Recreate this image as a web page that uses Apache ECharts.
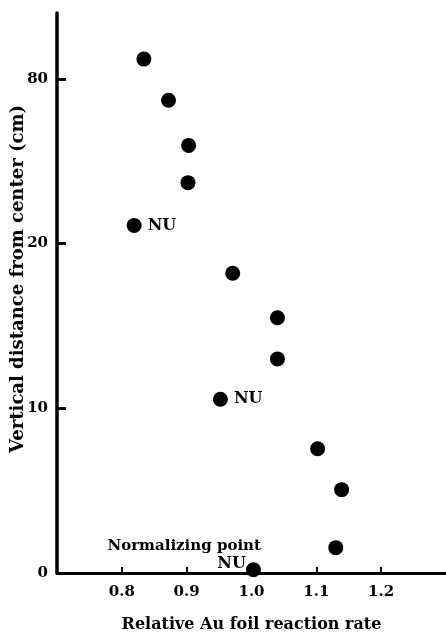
<!DOCTYPE html>
<html>
<head>
<meta charset="utf-8">
<script src="https://cdn.jsdelivr.net/npm/echarts@6/dist/echarts.min.js"></script>
<style>
  html, body { margin: 0; padding: 0; background: #fff; }
  #chart { width: 446px; height: 636px; }
</style>
</head>
<body>
<div id="chart"></div>
<script>
// relative Au foil reaction rate vs vertical distance
const rateValues = [0.834, 0.872, 0.903, 0.902, 0.819, 0.971, 1.040, 1.040, 0.952, 1.102, 1.139, 1.130, 1.003];
const distValues = [31.2, 28.7, 25.96, 23.7, 21.1, 18.2, 15.5, 13.0, 10.55, 7.54, 5.06, 1.54, 0.2];
const pointNotes = ['', '', '', '', 'NU', '', '', '', 'NU', '', '', '', 'NU'];
const normalizingIndex = 12;
const normalizingText = 'Normalizing point';

const xTicks = [0.8, 0.9, 1.0, 1.1, 1.2];
const yTicks = [0, 10, 20, 30];
// the printed figure labels the 30 cm tick as "80"
const yTickLabels = ['0', '10', '20', '80'];

const font = 'DejaVu Serif';
const black = '#000';

const chart = echarts.init(document.getElementById('chart'));

const seriesData = rateValues.map((x, i) => {
  const item = { value: [x, distValues[i]] };
  if (i === normalizingIndex) {
    item.label = {
      show: true,
      position: [15, 11],
      align: 'right',
      verticalAlign: 'bottom',
      formatter: '{a|' + normalizingText + '}\n{b|' + pointNotes[i] + '}',
      rich: {
        a: { fontFamily: font, fontWeight: 'bold', fontSize: 15, color: black, lineHeight: 18, align: 'right' },
        b: { fontFamily: font, fontWeight: 'bold', fontSize: 16, color: black, lineHeight: 18, align: 'right', padding: [0, 15, 0, 0] }
      }
    };
  } else if (pointNotes[i]) {
    item.label = {
      show: true,
      position: 'right',
      distance: 6,
      formatter: pointNotes[i]
    };
  }
  return item;
});

const options = {
  animation: false,
  grid: {
    left: 57,
    right: 0,
    top: 13,
    bottom: 63,
    outerBoundsMode: 'none'
  },
  xAxis: {
    type: 'value',
    min: 0.7,
    max: 1.3,
    interval: 0.1,
    name: 'Relative Au foil reaction rate',
    nameLocation: 'middle',
    nameGap: 44,
    nameMoveOverlap: false,
    nameTextStyle: { fontFamily: font, fontWeight: 'bold', fontSize: 16, color: black },
    splitLine: { show: false },
    axisLine: { lineStyle: { color: black, width: 3 } },
    axisTick: { inside: true, length: 6, customValues: xTicks, lineStyle: { color: black, width: 2 } },
    axisLabel: {
      margin: 12,
      customValues: xTicks,
      fontFamily: font,
      fontWeight: 'bold',
      fontSize: 15,
      color: black,
      formatter: function (v) {
        return v.toFixed(1);
      }
    }
  },
  yAxis: {
    type: 'value',
    min: 0,
    max: 34,
    interval: 10,
    name: 'Vertical distance from center (cm)',
    nameLocation: 'middle',
    nameGap: 30,
    nameMoveOverlap: false,
    nameTextStyle: { fontFamily: font, fontWeight: 'bold', fontSize: 18, color: black, padding: [0, 0, 0, 28] },
    splitLine: { show: false },
    axisLine: { lineStyle: { color: black, width: 3.5 } },
    axisTick: { inside: true, length: 9, customValues: yTicks, lineStyle: { color: black, width: 3 } },
    axisLabel: {
      margin: 9,
      customValues: yTicks,
      fontFamily: font,
      fontWeight: 'bold',
      fontSize: 15,
      color: black,
      formatter: function (v) {
        const i = yTicks.indexOf(v);
        return i >= 0 ? yTickLabels[i] : '';
      }
    }
  },
  series: [
    {
      type: 'scatter',
      symbol: 'circle',
      symbolSize: 15,
      itemStyle: { color: black, opacity: 1 },
      label: {
        fontFamily: font,
        fontWeight: 'bold',
        fontSize: 16,
        color: black
      },
      data: seriesData
    }
  ]
};

chart.setOption(options);
</script>
</body>
</html>
